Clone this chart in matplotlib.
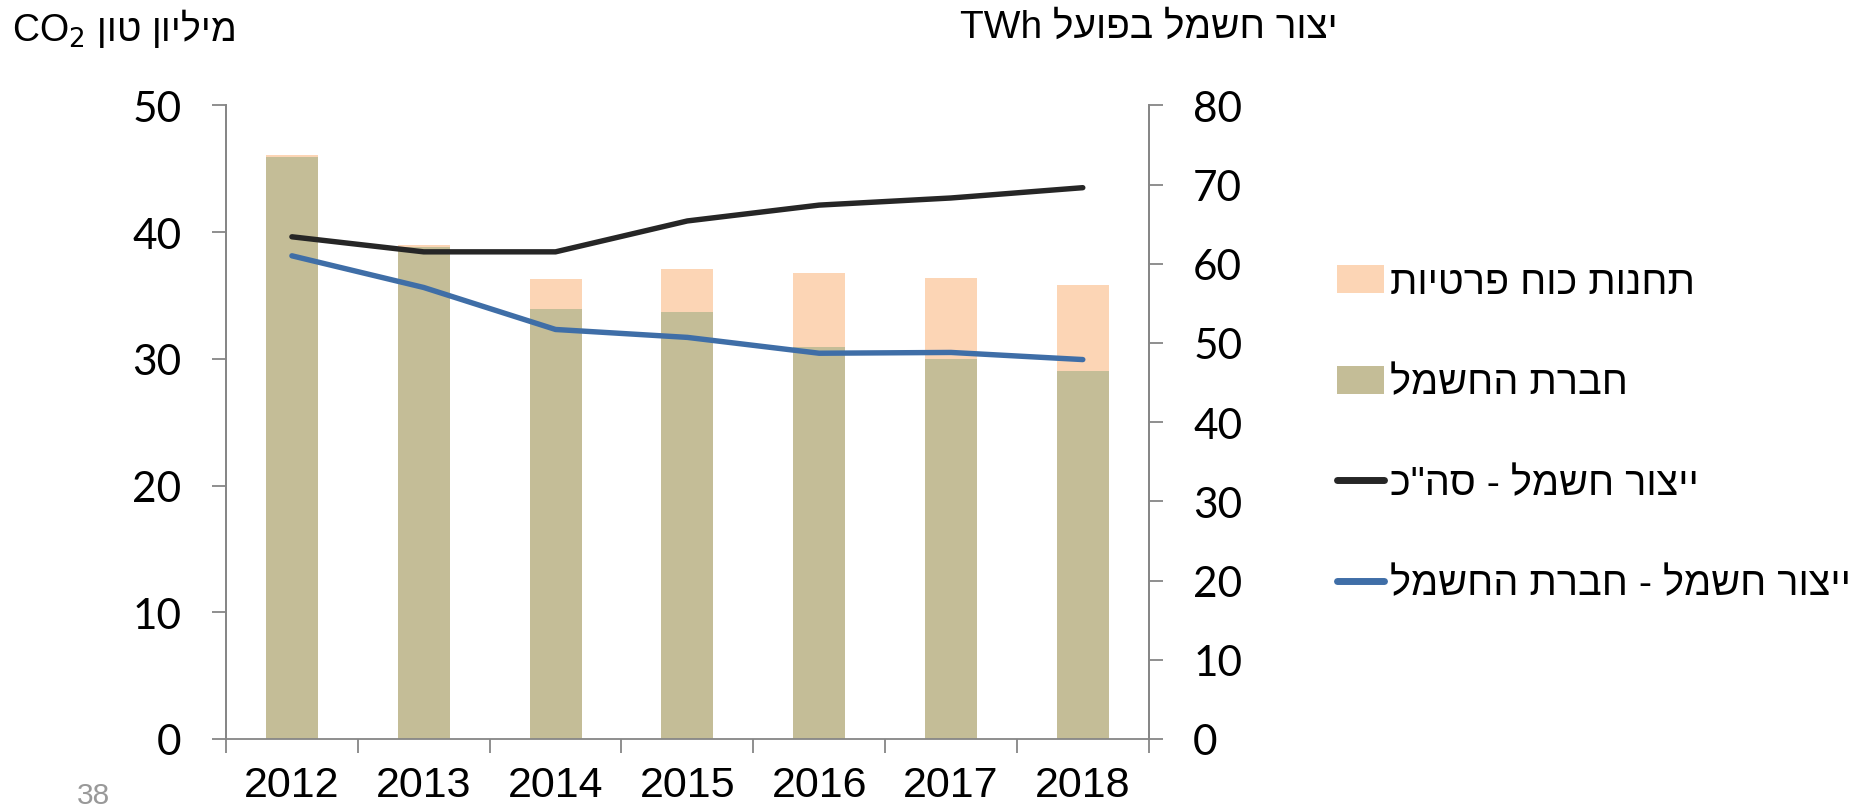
import matplotlib.pyplot as plt
from matplotlib.patches import Patch
from matplotlib.lines import Line2D
import numpy as np

years = ["2012", "2013", "2014", "2015", "2016", "2017", "2018"]
iec_co2 = [45.9, 38.8, 33.9, 33.7, 30.9, 30.0, 29.0]
private_co2 = [0.2, 0.2, 2.4, 3.4, 5.9, 6.4, 6.8]
total_twh = [63.4, 61.5, 61.5, 65.4, 67.4, 68.3, 69.6]
iec_twh = [61.0, 57.0, 51.7, 50.7, 48.7, 48.8, 47.9]


def rtl(s):
    # matplotlib has no bidi support, so Hebrew is written in visual order
    return s[::-1]


plt.rcParams["font.family"] = ["Liberation Sans", "DejaVu Sans"]

c_olive = "#C4BD97"
c_peach = "#FCD5B5"
c_black = "#262626"
c_blue = "#3F6EA7"
c_spine = "#868686"

fig = plt.figure(figsize=(18.58, 8.12), dpi=100)
ax = fig.add_axes([226 / 1858, 1 - 740 / 812, (1148.7 - 226) / 1858, (740 - 106.3) / 812])
ax2 = ax.twinx()

x = np.arange(len(years))
ax.bar(x, iec_co2, width=0.395, color=c_olive, zorder=2)
ax.bar(x, private_co2, width=0.395, bottom=iec_co2, color=c_peach, zorder=2)

ax2.plot(x, total_twh, color=c_black, lw=3.9, solid_capstyle="round", solid_joinstyle="round")
ax2.plot(x, iec_twh, color=c_blue, lw=3.9, solid_capstyle="round", solid_joinstyle="round")

ax.set_xlim(-0.5, len(years) - 0.5)
ax.set_ylim(0, 50)
ax2.set_ylim(0, 80)
ax.set_yticks(range(0, 51, 10))
ax2.set_yticks(range(0, 81, 10))

ax.set_xticks(np.arange(-0.5, len(years), 1.0))
ax.set_xticklabels([])
ax.set_xticks(x, minor=True)
ax.set_xticklabels(years, minor=True, fontsize=31)
ax.tick_params(axis="x", which="major", direction="out", length=10, width=1.3, color=c_spine)
ax.tick_params(axis="x", which="minor", length=0, pad=19)

ax.tick_params(axis="y", direction="out", length=10, width=1.3, color=c_spine, pad=22, labelsize=30.5)
ax2.tick_params(axis="y", direction="out", length=10, width=1.3, color=c_spine, pad=22, labelsize=30.5)
for lab in ax.get_yticklabels() + ax2.get_yticklabels():
    lab.set_fontfamily("Lato")

for a in (ax, ax2):
    a.spines["top"].set_visible(False)
    for s in ("left", "right", "bottom"):
        a.spines[s].set_color(c_spine)
        a.spines[s].set_linewidth(1.3)
ax2.spines["bottom"].set_visible(False)

fig.text(12 / 1858, 1 - 28 / 812, "CO$_2$ " + rtl("מיליון טון"), fontsize=27,
         ha="left", va="center")
fig.text(1149 / 1858, 1 - 28 / 812, "TWh " + rtl("יצור חשמל בפועל"), fontsize=28,
         ha="center", va="center")
fig.text(93 / 1858, 1 - 796 / 812, "38", fontsize=21.5, color="#999999",
         ha="center", va="center")

handles = [
    Patch(facecolor=c_peach),
    Patch(facecolor=c_olive),
    Line2D([], [], color=c_black, lw=5, solid_capstyle="round"),
    Line2D([], [], color=c_blue, lw=5, solid_capstyle="round"),
]
labels = [
    rtl("תחנות כוח פרטיות"),
    rtl("חברת החשמל"),
    rtl('ייצור חשמל - סה"כ'),
    rtl("ייצור חשמל - חברת החשמל"),
]
fig.legend(handles, labels, loc="upper left", bbox_to_anchor=(1337 / 1858, 1 - 264 / 812),
           frameon=False, fontsize=28.5, handlelength=1.2, handletextpad=0.13,
           labelspacing=1.58, borderpad=0, borderaxespad=0)

fig.savefig("out.png", dpi=100)
